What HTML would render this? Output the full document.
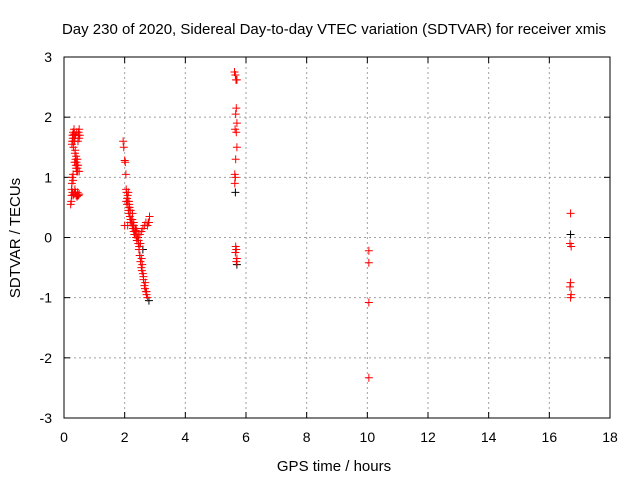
<!DOCTYPE html>
<html><head><meta charset="utf-8"><style>
body{margin:0;background:#fff}
svg{display:block;font-family:"Liberation Sans",sans-serif}
</style></head><body>
<svg id="chart" width="640" height="480">
<text x="334" y="34" text-anchor="middle" font-size="15">Day 230 of 2020, Sidereal Day-to-day VTEC variation (SDTVAR) for receiver xmis</text>
<text x="334" y="471" text-anchor="middle" font-size="15">GPS time / hours</text>
<text x="20" y="238" text-anchor="middle" font-size="15" transform="rotate(-90 20 238)">SDTVAR / TECUs</text>
<g id="grid"></g><g id="ticks"></g><g id="marks"></g>
<rect x="64" y="57" width="546" height="361" fill="none" stroke="#000" stroke-width="1"/>
</svg>
<script>
const xTicks=[0,2,4,6,8,10,12,14,16,18];
const yTicks=[-3,-2,-1,0,1,2,3];
const blackT=[2.8,5.65,5.7,16.7,2.5,2.6,0.45];
const blackV=[-1.05,0.75,-0.45,0.05,-0.3,-0.2,0.7];
const redT=[0.22,0.24,0.25,0.26,0.27,0.28,0.29,0.3,0.31,0.32,0.33,0.34,0.35,0.36,0.37,0.38,0.39,0.4,0.41,0.42,0.43,0.44,0.45,0.46,0.47,0.48,0.5,0.52,0.25,0.28,0.3,0.33,0.36,0.38,0.4,0.43,0.45,0.48,0.5,0.27,0.3,0.35,0.4,0.44,0.5,0.3,0.34,0.38,0.42,0.46,0.5,0.26,0.3,
1.95,1.97,2.0,2.02,2.04,2.05,2.06,2.08,2.1,2.12,2.14,2.15,2.17,2.2,2.22,2.25,2.28,2.3,2.32,2.35,2.38,2.4,2.42,2.45,2.47,2.5,2.52,2.55,2.57,2.6,2.62,2.65,2.67,2.7,2.72,2.75,2.5,2.55,2.6,2.65,2.7,2.75,2.8,2.82,2.05,2.1,2.15,2.2,2.25,2.3,2.35,2.4,2.45,2.1,2.2,2.3,
2.0,2.08,2.12,2.16,2.18,2.24,2.28,2.34,2.38,2.44,2.48,2.52,2.56,2.62,2.68,2.72,2.78,2.14,2.26,2.36,2.46,2.58,
5.62,5.65,5.67,5.7,5.68,5.66,5.7,5.64,5.68,5.7,5.66,5.63,5.65,5.63,5.66,5.68,5.65,5.7,5.68,
10.05,10.05,10.05,10.05,
16.7,16.68,16.72,16.7,16.68,16.72,16.7];
const redV=[0.55,0.6,0.7,1.55,1.6,1.7,1.65,1.75,1.5,1.7,1.8,1.72,1.6,1.4,1.45,1.3,1.2,1.15,1.25,1.1,1.2,1.3,1.1,1.2,1.7,1.75,1.8,1.7,0.8,0.75,0.7,0.72,0.8,0.75,0.7,0.68,0.75,0.7,0.72,1.0,1.05,1.25,1.35,1.15,1.1,1.6,1.65,1.7,1.75,1.6,1.65,0.9,0.95,
1.6,1.5,1.28,1.25,1.05,0.8,0.75,0.65,0.6,0.45,0.4,0.5,0.35,0.3,0.25,0.2,0.15,0.1,0.05,0.1,0.0,-0.05,0.0,-0.1,-0.2,-0.3,-0.4,-0.5,-0.55,-0.6,-0.7,-0.8,-0.85,-0.9,-0.95,-1.0,0.05,0.1,0.15,0.2,0.25,0.2,0.25,0.35,0.6,0.7,0.55,0.45,0.3,0.2,0.15,0.1,0.05,0.2,0.3,0.25,
0.2,0.55,0.75,0.5,0.25,0.3,0.2,0.05,0.15,0.0,-0.15,-0.1,-0.35,-0.65,-0.75,-0.9,0.25,0.6,0.4,0.12,-0.05,-0.45,
2.75,2.7,2.62,2.62,2.15,2.05,1.9,1.8,1.75,1.5,1.3,1.05,1.0,0.9,-0.15,-0.2,-0.25,-0.35,-0.4,
-0.22,-0.42,-1.08,-2.33,
0.4,-0.1,-0.15,-0.75,-0.82,-0.95,-1.0];
const NS="http://www.w3.org/2000/svg";
const X=t=>64+t*546/18, Y=v=>237.5-v*361/6;
const grid=document.getElementById('grid'),ticks=document.getElementById('ticks'),marks=document.getElementById('marks');
function mk(tag,a,p){const e=document.createElementNS(NS,tag);for(const k in a)e.setAttribute(k,a[k]);p.appendChild(e);return e;}
xTicks.forEach(t=>{const x=X(t);
 if(t>0&&t<18){const g=mk('line',{x1:x,x2:x,y1:57,y2:418,stroke:'#a0a0a0','stroke-dasharray':'2,3'},grid);
 
 }
 mk('line',{x1:x,x2:x,y1:418,y2:412,stroke:'#000'},ticks);mk('line',{x1:x,x2:x,y1:57,y2:63,stroke:'#000'},ticks);
 const l=mk('text',{x:x,y:442,'text-anchor':'middle','font-size':'14'},ticks);l.textContent=t;
 
 });
yTicks.forEach(v=>{const y=Y(v);
 if(v>-3&&v<3){const g=mk('line',{x1:64,x2:610,y1:y,y2:y,stroke:'#a0a0a0','stroke-dasharray':'2,3'},grid);
 
 }
 mk('line',{x1:64,x2:70,y1:y,y2:y,stroke:'#000'},ticks);mk('line',{x1:604,x2:610,y1:y,y2:y,stroke:'#000'},ticks);
 const l=mk('text',{x:52,y:y+5,'text-anchor':'end','font-size':'14'},ticks);l.textContent=v;
 
 });
function cross(t,v,c,n){const x=X(t),y=Y(v);
 const p=mk('path',{d:`M${x-4},${y}H${x+4}M${x},${y-4}V${y+4}`,stroke:c,'stroke-width':1},marks);
 
 }
blackT.forEach((t,i)=>cross(t,blackV[i],'#000','black-point'));
redT.forEach((t,i)=>cross(t,redV[i],'#f00','sdtvar-point'));
</script>
</body></html>
